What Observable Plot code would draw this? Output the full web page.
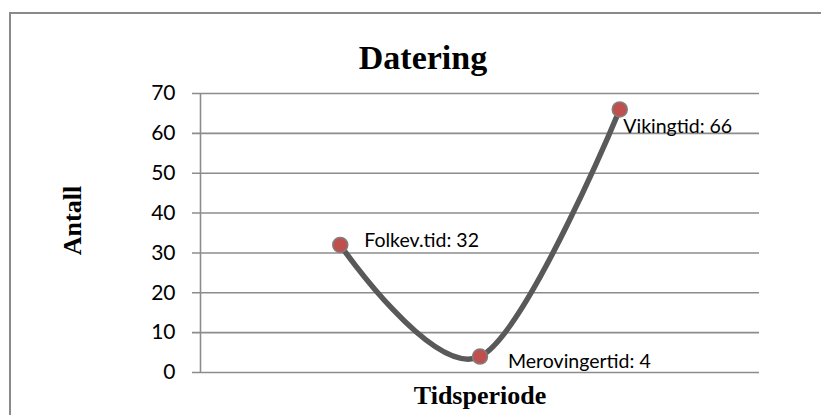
<!DOCTYPE html>
<html>
<head>
<meta charset="utf-8">
<script src="https://cdn.jsdelivr.net/npm/d3@7"></script>
<script src="https://cdn.jsdelivr.net/npm/@observablehq/plot@0.6"></script>
<style>
  html, body { margin: 0; padding: 0; background: #fff; overflow: hidden; }
  #wrap { position: relative; width: 821px; height: 415px; }
  #border { position: absolute; left: 9px; top: 12px; width: 900px; height: 500px;
            border: 2px solid #8a8a8a; box-sizing: border-box; }
  #chart { position: absolute; left: 0; top: 0; }
</style>
</head>
<body>
<div id="wrap"><div id="border"></div><div id="chart"></div></div>
<script>
const periods = ["Folkev.tid", "Merovingertid", "Vikingtid"];
const positions = [1, 2, 3];
const counts = [32, 4, 66];
const yTicks = [0, 10, 20, 30, 40, 50, 60, 70];
const title = "Datering";
const xLabel = "Tidsperiode";
const yLabel = "Antall";

const data = periods.map((p, i) => ({period: p, pos: positions[i], value: counts[i], label: `${p}: ${counts[i]}`}));

const labelFont = "Lato, 'Open Sans', sans-serif";
const serif = "'Liberation Serif', 'DejaVu Serif', serif";
const gridColor = "#8c8c8c";

const labelOffsets = [[24, -4], [28, 5], [3.5, 17.6]];

const chart = Plot.plot({
  width: 821,
  height: 415,
  marginLeft: 200,
  marginRight: 62,
  marginTop: 93,
  marginBottom: 43,
  style: {background: "transparent", overflow: "visible"},
  x: {domain: [0, 4], axis: null},
  y: {domain: [0, 70], axis: null},
  marks: [
    Plot.gridY(yTicks, {stroke: gridColor, strokeOpacity: 1, strokeWidth: 1.6, insetLeft: -8}),
    Plot.ruleX([0], {stroke: gridColor, strokeWidth: 1.6}),
    Plot.axisY(yTicks, {label: null, tickSize: 0, tickPadding: 25, fontSize: 21, fontFamily: labelFont, fill: "#000", tickFormat: d => String(d)}),
    Plot.line(data, {x: "pos", y: "value", curve: "cardinal", stroke: "#595959", strokeWidth: 5.5}),
    Plot.dot(data, {x: "pos", y: "value", r: 7.5, fill: "#c0504d", stroke: "#7f7f7f", strokeWidth: 1.5}),
    ...data.map((d, i) => Plot.text([d], {x: "pos", y: "value", text: "label", textAnchor: "start",
      dx: labelOffsets[i][0], dy: labelOffsets[i][1], fontSize: 19.5, fontFamily: labelFont, fill: "#000"})),
    Plot.text([title], {frameAnchor: "top", lineAnchor: "middle", dx: -57, dy: -35, fontSize: 34, fontWeight: "bold", fontFamily: serif, fill: "#000"}),
    Plot.text([xLabel], {frameAnchor: "bottom", lineAnchor: "middle", dx: 0, dy: 22.7, fontSize: 26, fontWeight: "bold", fontFamily: serif, fill: "#000"}),
    Plot.text([yLabel], {frameAnchor: "left", textAnchor: "middle", lineAnchor: "middle", dx: -128, dy: -12.5, rotate: -90, fontSize: 26, fontWeight: "bold", fontFamily: serif, fill: "#000"})
  ]
});
document.getElementById("chart").appendChild(chart);
</script>
</body>
</html>
